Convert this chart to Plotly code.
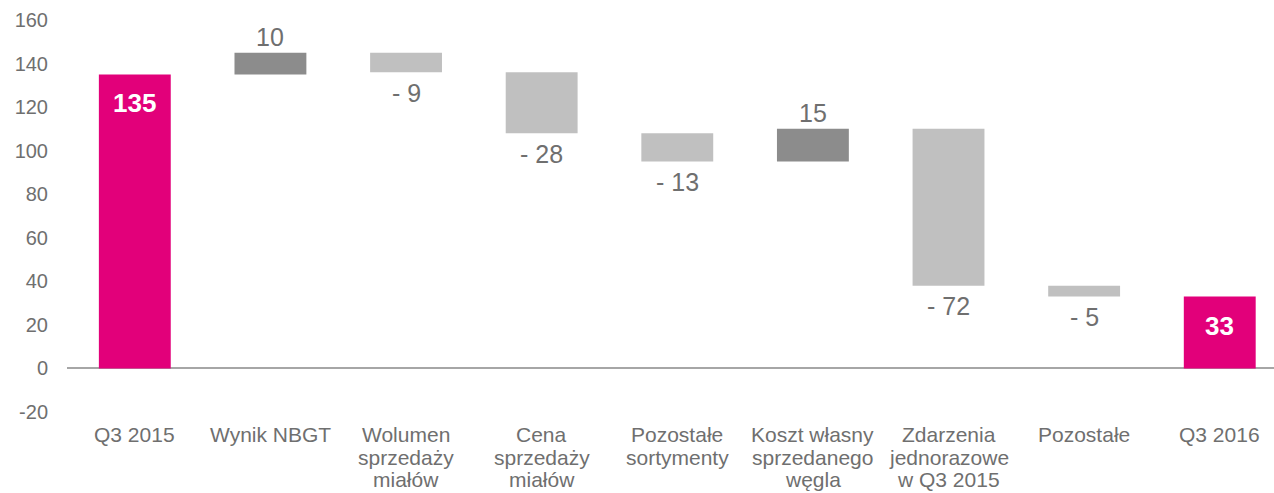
import plotly.graph_objects as go

categories = [
    "Q3 2015",
    "Wynik NBGT",
    "Wolumen<br>sprzedaży<br>miałów",
    "Cena<br>sprzedaży<br>miałów",
    "Pozostałe<br>sortymenty",
    "Koszt własny<br>sprzedanego<br>węgla",
    "Zdarzenia<br>jednorazowe<br>w Q3 2015",
    "Pozostałe",
    "Q3 2016",
]
values = [135, 10, -9, -28, -13, 15, -72, -5, 33]
measures = ["absolute", "relative", "relative", "relative", "relative",
            "relative", "relative", "relative", "total"]
y_ticks = [-20, 0, 20, 40, 60, 80, 100, 120, 140, 160]
y_tick_labels = ["-20", "0", "20", "40", "60", "80", "100", "120", "140", "160"]

MAGENTA = "#E2007A"
DARK = "#8C8C8C"
LIGHT = "#C0C0C0"
TEXT = "#6F6F6F"
FONT = "Liberation Sans, Arial, sans-serif"

fig = go.Figure(
    go.Waterfall(
        x=categories,
        y=values,
        measure=measures,
        base=0,
        cliponaxis=False,
        width=0.53,
        increasing=dict(marker=dict(color=DARK)),
        decreasing=dict(marker=dict(color=LIGHT)),
        totals=dict(marker=dict(color=MAGENTA)),
        connector=dict(visible=False),
        hoverinfo="skip",
    )
)

# value labels: bold white inside totals, grey outside the floating steps
running = 0
for cat, v, m in zip(categories, values, measures):
    if m in ("absolute", "total"):
        running = v if m == "absolute" else running
        fig.add_annotation(
            x=cat, y=running, text=f"<b>{v}</b>", showarrow=False,
            yanchor="middle", yshift=-29,
            font=dict(color="white", size=26, family=FONT),
        )
    else:
        start, running = running, running + v
        if v >= 0:
            fig.add_annotation(
                x=cat, y=running, text=f"{v}", showarrow=False,
                yanchor="middle", yshift=16,
                font=dict(color=TEXT, size=25, family=FONT),
            )
        else:
            fig.add_annotation(
                x=cat, y=running, text=f"- {abs(v)}", showarrow=False,
                yanchor="middle", yshift=-20.5,
                font=dict(color=TEXT, size=25, family=FONT),
            )

# category labels, one annotation per line for tight line spacing
for cat in categories:
    for i, line in enumerate(cat.split("<br>")):
        fig.add_annotation(
            x=cat, xref="x", y=0, yref="paper", text=line, showarrow=False,
            yanchor="middle", yshift=-9.5 - 22.6 * i,
            font=dict(color=TEXT, size=21, family=FONT),
        )

fig.update_layout(
    width=1274,
    height=493,
    margin=dict(l=67, r=0, t=20, b=68),
    paper_bgcolor="white",
    plot_bgcolor="white",
    showlegend=False,
    font=dict(family=FONT, size=20, color=TEXT),
    xaxis=dict(
        range=[-0.5, 8.4],
        showgrid=False,
        showline=False,
        zeroline=False,
        showticklabels=False,
    ),
    yaxis=dict(
        range=[-26, 160],
        tickvals=y_ticks,
        ticktext=y_tick_labels,
        showgrid=False,
        showline=False,
        zeroline=True,
        zerolinecolor="#A6A6A6",
        zerolinewidth=1.5,
        tickfont=dict(size=20, color=TEXT),
        ticklabelstandoff=18,
    ),
)

fig.write_html("out.html")
